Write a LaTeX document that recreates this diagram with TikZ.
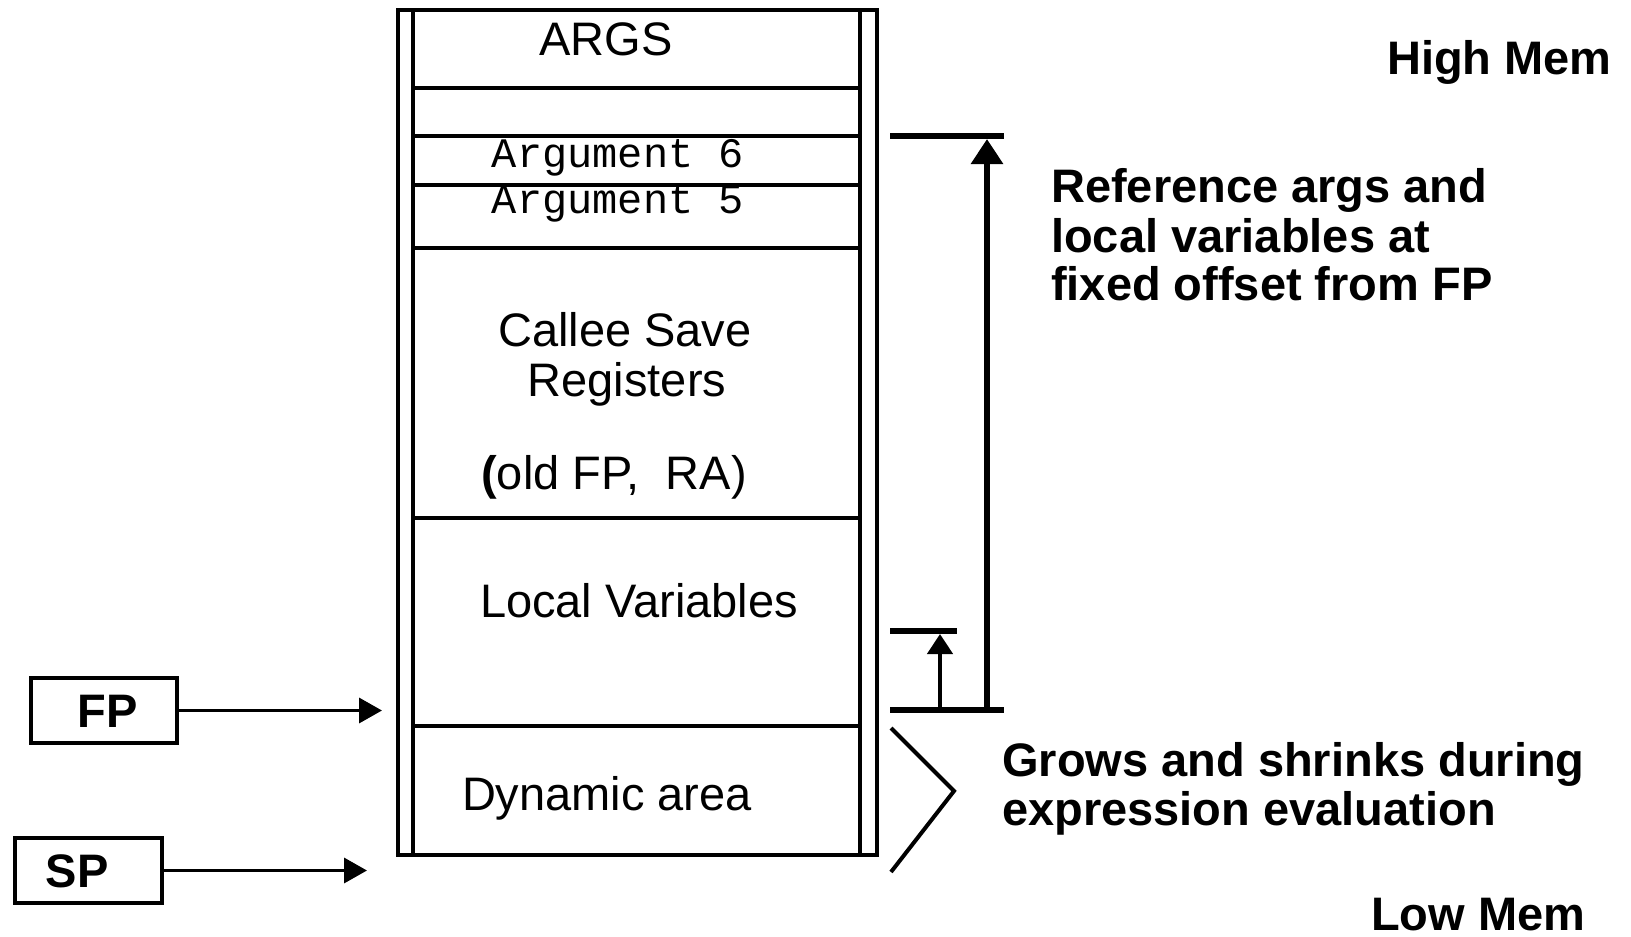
\documentclass[tikz,border=0pt]{standalone}
\usepackage{fontspec}
\setmainfont{Liberation Sans}
\newfontfamily\codefont{Liberation Mono}
\usetikzlibrary{arrows.meta}

\begin{document}
\begin{tikzpicture}[x=1pt,y=-1pt]
\tikzstyle{cell}=[draw, line width=3.5pt, rectangle, minimum width=447pt, inner sep=0pt]
\tikzstyle{ptr box}=[draw, line width=3.5pt, rectangle, minimum width=146pt, minimum height=65pt, inner sep=0pt]
\tikzstyle{plain text}=[inner sep=0pt, anchor=base, font=\fontsize{47}{49}\selectfont]
\tikzstyle{code text}=[inner sep=0pt, anchor=base, font=\fontsize{42}{44}\codefont]
\tikzstyle{note}=[inner sep=0pt, anchor=base west, font=\fontsize{47}{49}\selectfont\bfseries]
\tikzstyle{ptr}=[-{Triangle[length=23pt,width=25pt]}, line width=3.5pt]
\tikzstyle{bar}=[line width=6pt]

% Fix the page size
\fill[white] (0,0) rectangle (1631,937);
\useasboundingbox (0,0) rectangle (1631,937);

% Draw the outer frame of the stack
\node[draw, line width=3.5pt, rectangle, minimum width=479pt, minimum height=845pt, inner sep=0pt] (stack) at (637.5,432.5) {};

% Draw the cells inside the frame
\foreach \name / \ytop / \ybot in {args/10/88, pad/88/136, arg6/136/185, arg5/185/248, callee/248/518, locals/518/726, dyn/726/855}
  \node[cell, minimum height={(\ybot-\ytop)*1pt}] (\name) at (636.5,{(\ytop+\ybot)/2}) {};

% Label the cells
\node[plain text] (args-text) at (606,55) {ARGS};
\node[code text] (arg6-text) at (618,167) {Argument 6};
\node[code text] (arg5-text) at (618,213) {Argument 5};
\node[plain text] (callee-text) at (625,346) {Callee Save};
\node[plain text] (reg-text) at (627,396) {Registers};
\node[plain text] (old-text) at (614,489) {\textbf{(}old FP,\ \ RA)};
\node[plain text] (locals-text) at (639,617) {Local Variables};
\node[plain text] (dyn-text) at (607,810) {Dynamic area};

% Draw the frame and stack pointers
\node[ptr box] (FP) at (104,710.5) {};
\node[ptr box, minimum width=147pt] (SP) at (88.5,870.5) {};
\node[plain text, font=\fontsize{47}{49}\selectfont\bfseries] (FP-text) at (108,727) {FP};
\node[plain text, font=\fontsize{47}{49}\selectfont\bfseries] (SP-text) at (77,887) {SP};
\coordinate (fp tip) at (382,710.5);
\coordinate (sp tip) at (367,870.5);
\draw[ptr] (FP.east) -- (fp tip);
\draw[ptr] (SP.east) -- (sp tip);

% Draw the offset bars and arrows
\coordinate (hi-L) at (890,136);
\coordinate (hi-R) at (1004,136);
\coordinate (mid-L) at (890,631);
\coordinate (mid-R) at (957,631);
\coordinate (lo-L) at (890,710);
\coordinate (lo-R) at (1004,710);
\draw[bar] (hi-L) -- (hi-R);
\draw[bar] (mid-L) -- (mid-R);
\draw[bar] (lo-L) -- (lo-R);
\coordinate (big foot) at (987,710);
\coordinate (big head) at (987,139);
\coordinate (small foot) at (940,710);
\coordinate (small head) at (940,634);
\draw[line width=6pt, -{Triangle[length=25pt,width=31pt]}] (big foot) -- (big head);
\draw[line width=4.5pt, -{Triangle[length=20pt,width=25pt]}] (small foot) -- (small head);

% Draw the bracket next to the dynamic area
\draw[line width=4pt] (891,728) -- (954,791) -- (891,872);

% Annotate the picture
\node[note] (high) at (1387,74) {High Mem};
\foreach \txt / \y in {Reference args and/202, local variables at/252, fixed offset from FP/300}
  \node[note] (ref-\y) at (1051,\y) {\txt};
\foreach \txt / \y in {Grows and shrinks during/776, expression evaluation/825}
  \node[note] (grow-\y) at (1002,\y) {\txt};
\node[note] (low) at (1371,930) {Low Mem};

\end{tikzpicture}
\end{document}
